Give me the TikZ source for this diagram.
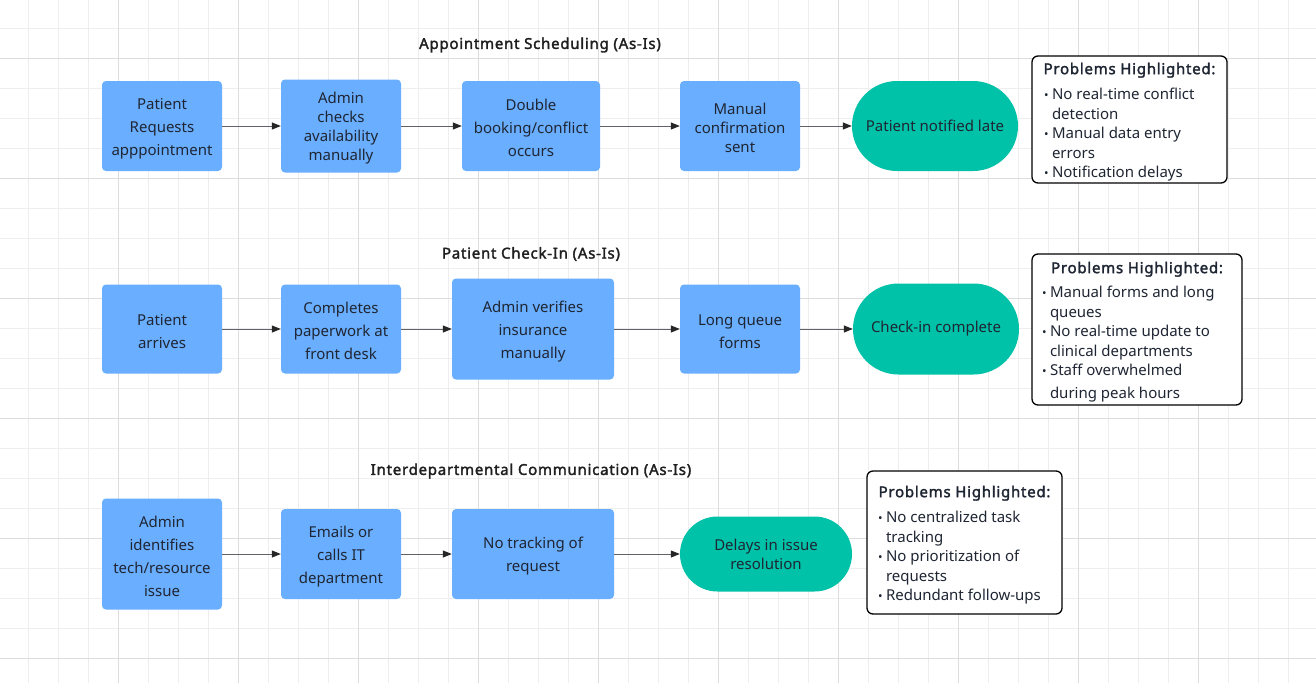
\documentclass[tikz,border=0pt]{standalone}
\usepackage{fontspec}
\setmainfont{Noto Sans}
\newfontface\boldf{Noto Sans}[FakeBold=2,LetterSpace=5]
\usetikzlibrary{arrows.meta,shapes.misc}
\definecolor{boxblue}{HTML}{6AAEFF}
\definecolor{tealfill}{HTML}{00C2A8}
\definecolor{txt}{HTML}{1F2633}
\definecolor{gridminor}{HTML}{EEEEEE}
\definecolor{gridmajor}{HTML}{DDDDDD}
\definecolor{arrgray}{HTML}{5F6368}
\newcommand{\T}{\rule{0pt}{16pt}}
\newcommand{\pitem}[1]{\par\noindent\hangindent=8pt\hangafter=1\makebox[8pt][l]{\raisebox{0.5pt}{\fontsize{12}{12}\selectfont\textbullet}}#1}
\newcommand{\ptitle}{\vspace*{5pt}\makebox[\linewidth][c]{\boldf\fontsize{15}{19.5}\selectfont Problems Highlighted:}}
\begin{document}
\begin{tikzpicture}[x=1pt,y=-1pt,
 proc/.style={rectangle,rounded corners=4pt,fill=boxblue,text=txt,align=center,inner sep=0pt,font=\fontsize{15}{23}\selectfont},
 procs/.style={proc,font=\fontsize{15}{19}\selectfont},
 term/.style={rounded rectangle,fill=tealfill,text=txt,align=center,inner sep=0pt,font=\fontsize{15}{19}\selectfont},
 prob/.style={rectangle,draw=black,line width=1.3pt,rounded corners=6pt,fill=white,text=txt,inner xsep=0pt,inner ysep=0pt,font=\fontsize{15}{19.5}\selectfont},
 ttl/.style={font=\boldf\fontsize{15}{18}\selectfont,text=black!88},
 arr/.style={draw=arrgray,line width=1pt,-{Triangle[length=9pt,width=7pt,color=black!85]}}
]
\useasboundingbox (0,0) rectangle (1316,683);
\fill[white] (0,0) rectangle (1316,683);
\foreach \x in {28,58,...,1316} \draw[gridminor,line width=0.8pt] (\x,0) -- (\x,683);
\foreach \y in {28,58,...,683} \draw[gridminor,line width=0.8pt] (0,\y) -- (1316,\y);
\foreach \x in {118,238,...,1316} \draw[gridmajor,line width=0.8pt] (\x,0) -- (\x,683);
\foreach \y in {58,178,...,683} \draw[gridmajor,line width=0.8pt] (0,\y) -- (1316,\y);

% Row 1
\node[ttl] (t1) at (540,45) {Appointment Scheduling (As-Is)};
\node[proc,minimum width=120,minimum height=90] (a1) at (162,126) {\T Patient\\Requests\\apppointment};
\node[procs,minimum width=120,minimum height=93] (a2) at (341,126) {\T Admin\\checks\\availability\\manually};
\node[proc,minimum width=138,minimum height=90] (a3) at (531,126) {\T Double\\booking/conflict\\occurs};
\node[procs,minimum width=120,minimum height=90] (a4) at (740,126) {\T Manual\\confirmation\\sent};
\node[term,minimum width=166,minimum height=90] (a5) at (935,126) {Patient notified late};
\node[prob,minimum width=195,minimum height=127] (ap) at (1129.5,119.5) {\begin{minipage}{171pt}\ptitle\par\vspace{6pt}\raggedright
\pitem{No real-time conflict\newline detection}
\pitem{Manual data entry\newline errors}
\pitem{Notification delays}\par\end{minipage}};
\draw[arr] (a1) -- (a2);
\draw[arr] (a2) -- (a3);
\draw[arr] (a3) -- (a4);
\draw[arr] (a4) -- (a5);

% Row 2
\node[ttl] (t2) at (531,254) {Patient Check-In (As-Is)};
\node[proc,minimum width=120,minimum height=89] (b1) at (162,329) {\T Patient\\arrives};
\node[proc,minimum width=120,minimum height=89] (b2) at (341,329) {\T Completes\\paperwork at\\front desk};
\node[proc,minimum width=162,minimum height=101] (b3) at (533,329) {\T Admin verifies\\insurance\\manually};
\node[proc,minimum width=120,minimum height=89] (b4) at (740,329) {\T Long queue\\forms};
\node[term,minimum width=166,minimum height=91] (b5) at (936,329) {Check-in complete};
\node[prob,minimum width=210,minimum height=151] (bp) at (1137,329.5) {\begin{minipage}{190pt}\ptitle\par\vspace{5pt}\raggedright
\pitem{Manual forms and long\newline queues}
\pitem{No real-time update to\newline clinical departments}
\pitem{Staff overwhelmed\par\vspace{3.5pt}\noindent\hspace*{8pt}during peak hours}\par\end{minipage}};
\draw[arr] (b1) -- (b2);
\draw[arr] (b2) -- (b3);
\draw[arr] (b3) -- (b4);
\draw[arr] (b4) -- (b5);

% Row 3
\node[ttl] (t3) at (531,471) {Interdepartmental Communication (As-Is)};
\node[proc,minimum width=120,minimum height=111] (c1) at (162,554) {\T Admin\\identifies\\tech/resource\\issue};
\node[proc,minimum width=120,minimum height=90] (c2) at (341,554) {\T Emails or\\calls IT\\department};
\node[proc,minimum width=162,minimum height=90] (c3) at (533,554) {\T No tracking of\\request};
\node[term,minimum width=172,minimum height=75] (c4) at (766,554) {Delays in issue\\resolution};
\node[prob,minimum width=195,minimum height=143] (cp) at (964.5,542.5) {\begin{minipage}{173pt}\ptitle\par\vspace{6pt}\raggedright
\pitem{No centralized task\newline tracking}
\pitem{No prioritization of\newline requests}
\pitem{Redundant follow-ups}\par\end{minipage}};
\draw[arr] (c1) -- (c2);
\draw[arr] (c2) -- (c3);
\draw[arr] (c3) -- (c4);
\end{tikzpicture}
\end{document}
